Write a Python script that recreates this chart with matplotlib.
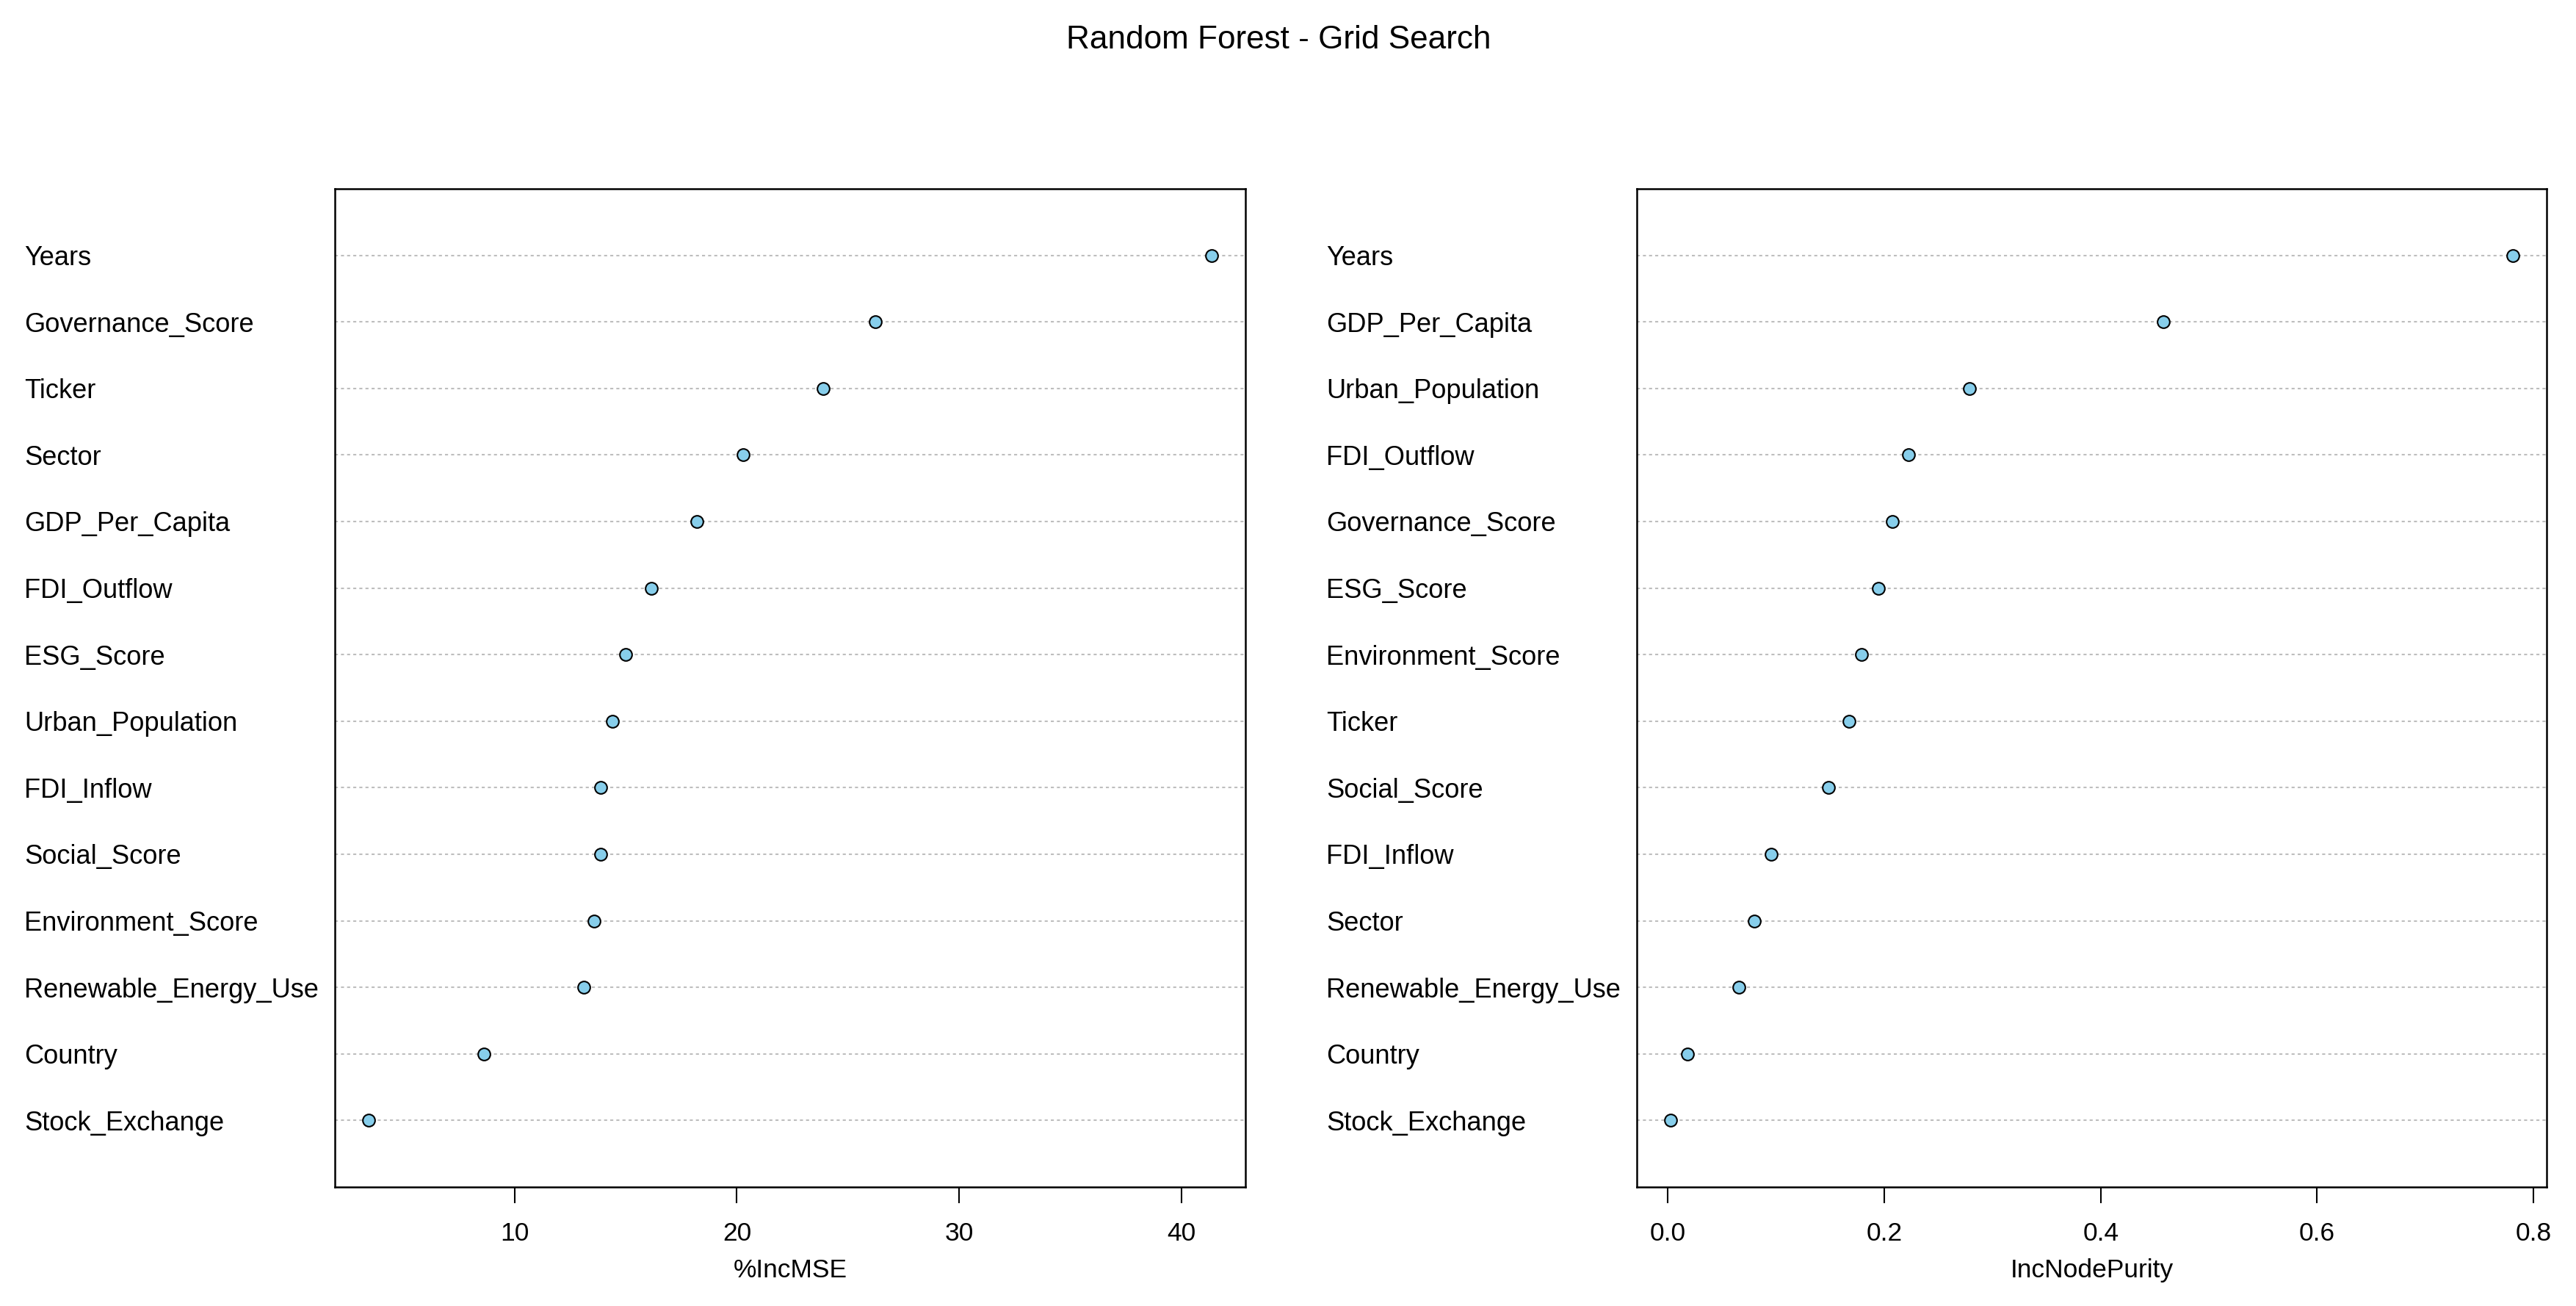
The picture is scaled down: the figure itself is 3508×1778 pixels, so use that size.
import matplotlib
matplotlib.use("Agg")
import matplotlib.pyplot as plt
from matplotlib.ticker import FormatStrFormatter

plt.rcParams["font.family"] = ["Liberation Sans", "DejaVu Sans"]

# variable importance, listed top to bottom as drawn
mse_labels = ["Years", "Governance_Score", "Ticker", "Sector", "GDP_Per_Capita",
              "FDI_Outflow", "ESG_Score", "Urban_Population", "FDI_Inflow",
              "Social_Score", "Environment_Score", "Renewable_Energy_Use",
              "Country", "Stock_Exchange"]
mse_values = [41.36, 26.22, 23.90, 20.29, 18.21, 16.17, 15.01, 14.42, 13.89,
              13.89, 13.58, 13.12, 8.63, 3.44]

purity_labels = ["Years", "GDP_Per_Capita", "Urban_Population", "FDI_Outflow",
                 "Governance_Score", "ESG_Score", "Environment_Score", "Ticker",
                 "Social_Score", "FDI_Inflow", "Sector", "Renewable_Energy_Use",
                 "Country", "Stock_Exchange"]
purity_values = [0.7813, 0.4578, 0.2788, 0.2224, 0.2072, 0.1943, 0.1786, 0.1676,
                 0.1485, 0.0953, 0.0795, 0.0653, 0.0182, 0.0023]

mse_ticks = [10, 20, 30, 40]
purity_ticks = [0.0, 0.2, 0.4, 0.6, 0.8]

fig = plt.figure(figsize=(3508 / 300, 1778 / 300), dpi=300)
ax1 = fig.add_axes([0.130, 0.0911, 0.3535, 0.7644])
ax2 = fig.add_axes([0.6354, 0.0911, 0.3533, 0.7644])


def dotchart(ax, labels, values, xlabel, ticks, fmt):
    n = len(labels)
    ys = [n - i for i in range(n)]
    for y in ys:
        ax.axhline(y, color="#bebebe", lw=0.5, ls=(0, (2, 2)), zorder=1)
    ax.plot(values, ys, ls="none", marker="o", ms=4.0, mfc="#87ceeb",
            mec="black", mew=0.5, zorder=3)
    ax.set_ylim(0, n + 1)
    ax.margins(x=0.04)
    ax.set_yticks(ys)
    ax.set_yticklabels(labels, ha="left", fontsize=8.7)
    ax.tick_params(axis="y", length=0, pad=101.5)
    ax.set_xticks(ticks)
    ax.xaxis.set_major_formatter(FormatStrFormatter(fmt))
    ax.tick_params(axis="x", length=5.3, width=0.5, pad=6, labelsize=8.5)
    ax.set_xlabel(xlabel, fontsize=8.5, labelpad=4)
    for s in ax.spines.values():
        s.set_linewidth(0.6)


dotchart(ax1, mse_labels, mse_values, "%IncMSE", mse_ticks, "%d")
dotchart(ax2, purity_labels, purity_values, "IncNodePurity", purity_ticks, "%.1f")

fig.text(0.4963, 1 - 55 / 1778, "Random Forest - Grid Search", ha="center",
         va="center", fontsize=10.6)

fig.savefig("out.png", dpi=300)
